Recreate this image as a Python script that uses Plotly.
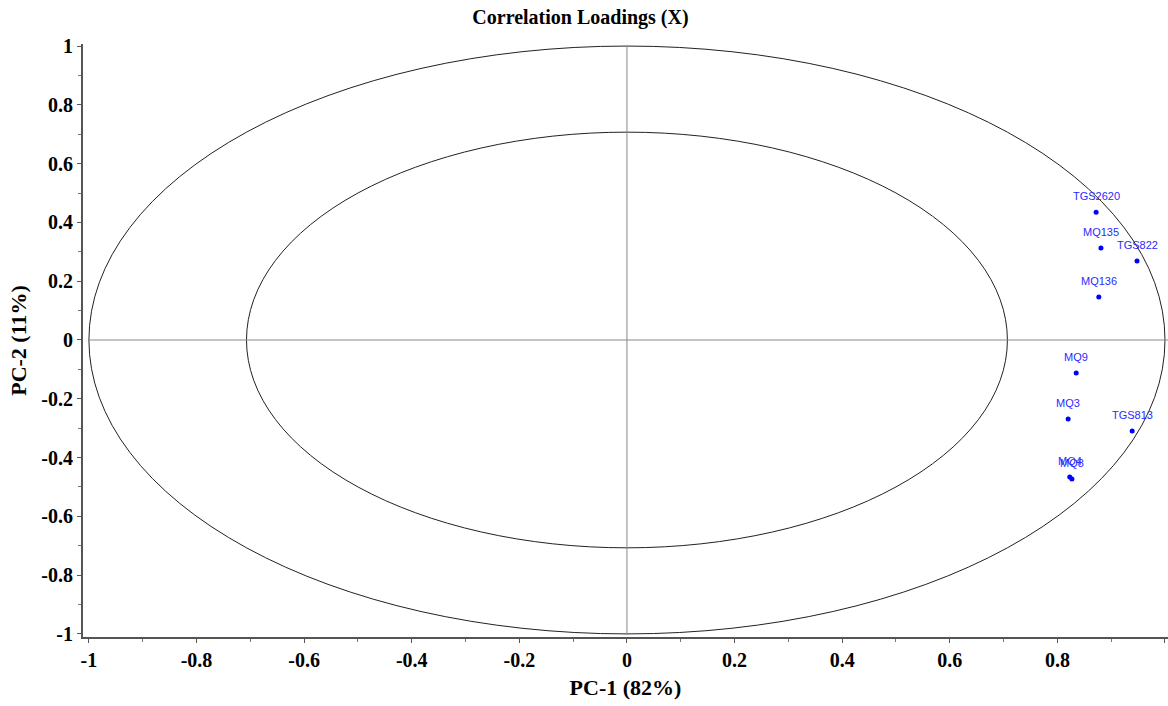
import plotly.graph_objects as go

# Data
sensors = ["TGS2620", "MQ135", "TGS822", "MQ136", "MQ9", "MQ3", "TGS813", "MQ4", "MQ8"]
pc1 = [0.872, 0.881, 0.948, 0.877, 0.835, 0.820, 0.939, 0.823, 0.827]
pc2 = [0.435, 0.313, 0.269, 0.146, -0.112, -0.269, -0.310, -0.466, -0.473]

tick_vals = [-1, -0.8, -0.6, -0.4, -0.2, 0, 0.2, 0.4, 0.6, 0.8, 1]
tick_text = ["-1", "-0.8", "-0.6", "-0.4", "-0.2", "0", "0.2", "0.4", "0.6", "0.8", "1"]
inner_r = 0.5 ** 0.5

serif = "Liberation Serif, Times New Roman, serif"

fig = go.Figure()
fig.add_trace(go.Scatter(
    x=pc1, y=pc2, mode="markers",
    marker=dict(color="#0000ff", size=5),
    hoverinfo="text", text=sensors, showlegend=False,
))

for name, x, y in zip(sensors, pc1, pc2):
    fig.add_annotation(x=x, y=y, text=name, showarrow=False, yshift=16,
                       font=dict(family="Liberation Sans, Arial, sans-serif", size=11, color="#2a2aff"))

# ellipses
fig.add_shape(type="circle", xref="x", yref="y", x0=-1, x1=1, y0=-1, y1=1,
              line=dict(color="#222222", width=1), layer="below")
fig.add_shape(type="circle", xref="x", yref="y", x0=-inner_r, x1=inner_r, y0=-inner_r, y1=inner_r,
              line=dict(color="#222222", width=1), layer="below")
# crosshairs
fig.add_shape(type="line", xref="x", yref="y", x0=0, x1=0, y0=-1, y1=1,
              line=dict(color="#888888", width=1), layer="below")
fig.add_shape(type="line", xref="x", yref="y", x0=-1, x1=1.01, y0=0, y1=0,
              line=dict(color="#888888", width=1), layer="below")

axis_common = dict(
    tickvals=tick_vals, ticktext=tick_text,
    showgrid=False, zeroline=False,
    showline=True, linecolor="#555555", linewidth=2,
    ticks="outside", ticklen=4, tickcolor="#555555", tickwidth=1,
    tickfont=dict(family=serif, size=20, color="black", weight="bold"),
    minor=dict(ticks="outside", ticklen=3, tickcolor="#777777", dtick=0.1, tick0=0, showgrid=False),
)

fig.update_layout(
    width=1168, height=706,
    margin=dict(l=83, r=0, t=44, b=69),
    plot_bgcolor="white", paper_bgcolor="white",
    title=dict(text="<b>Correlation Loadings (X)</b>", x=0.497, xanchor="center", y=0.976, yanchor="middle",
               font=dict(family=serif, size=20, color="black")),
    xaxis=dict(range=[-1.011, 1.0056],
               title=dict(text="<b>PC-1 (82%)</b>", font=dict(family=serif, size=22, color="black"), standoff=10),
               **axis_common),
    yaxis=dict(range=[-1.0105, 1.007],
               title=dict(text="<b>PC-2 (11%)</b>", font=dict(family=serif, size=22, color="black"), standoff=9),
               **axis_common),
)

fig.write_html(
    "out.html",
    config={"displayModeBar": False},
    post_script="document.body.style.margin='0';document.body.style.padding='0';document.body.style.overflow='hidden';",
)
